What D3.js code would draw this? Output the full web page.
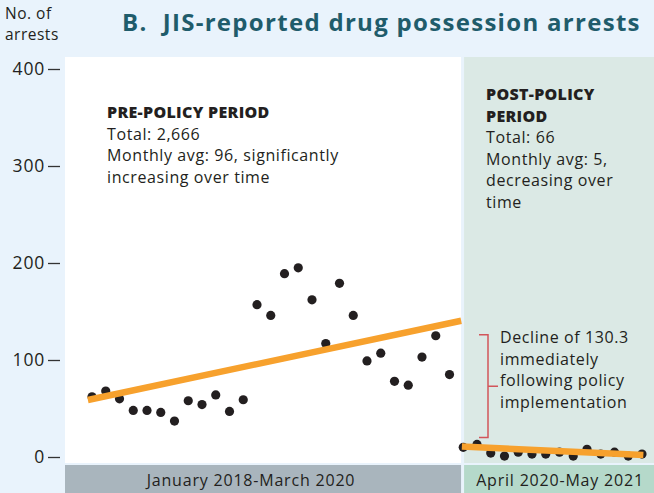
<!DOCTYPE html>
<html>
<head>
<meta charset="utf-8">
<script src="https://cdn.jsdelivr.net/npm/d3@7"></script>
<style>
  body { margin: 0; background: #e9f3fc; }
  svg { display: block; font-family: "Open Sans", sans-serif; }
</style>
</head>
<body>
<div id="chart"></div>
<script>
// monthly arrests, Jan 2018 - Mar 2020 and Apr 2020 - May 2021
const preValues = [62, 68, 60, 48, 48, 46, 37, 58, 54, 64, 47, 59, 157, 146,
	189, 195, 162, 117, 179, 146, 99, 107, 78, 74, 103, 125, 85];
const postValues = [10, 13, 4, 1, 5, 3, 3, 5, 1, 8, 3, 5, 1, 3];

// fitted segments: [month index, value] at each end
const preTrend = [[-0.3, 58.8], [26.85, 140.5]];
const postTrend = [[26.9, 10.7], [40.1, 2]];

const periodLabels = ["January 2018-March 2020", "April 2020-May 2021"];
const yTicks = [0, 100, 200, 300, 400];

const width = 654, height = 493;
const ink = "#231f20";

const svg = d3.select("#chart")
	.append("svg")
	.attr("width", width)
	.attr("height", height);

const x = d3.scaleLinear().domain([0, 40]).range([92, 642]);
const y = d3.scaleLinear().domain([0, 400]).range([457, 69]);

const splitA = x(26.84), splitB = x(27.06);
const plotTop = 57, plotBottom = 463;

// backgrounds
svg.append("rect")
	.attr("x", 65).attr("y", plotTop)
	.attr("width", splitA - 65).attr("height", plotBottom - plotTop)
	.attr("fill", "#ffffff");
svg.append("rect")
	.attr("x", splitB).attr("y", plotTop)
	.attr("width", width - splitB).attr("height", plotBottom - plotTop)
	.attr("fill", "#dbe9e5");

// period bars at the bottom
svg.append("rect")
	.attr("x", 65).attr("y", 465)
	.attr("width", splitA - 65).attr("height", 28)
	.attr("fill", "#a9b5bd");
svg.append("rect")
	.attr("x", splitB).attr("y", 465)
	.attr("width", width - splitB).attr("height", 28)
	.attr("fill", "#b5d9ca");
svg.selectAll("text.period")
	.data(periodLabels)
	.enter().append("text")
	.attr("class", "period")
	.attr("x", function(d, i) { return i === 0 ? 251 : (splitB + width) / 2 + 1; })
	.attr("y", 486)
	.attr("text-anchor", "middle")
	.attr("font-size", 16).attr("letter-spacing", 0.8).attr("fill", ink)
	.text(function(d) { return d; });

// y axis
const yAxis = svg.append("g")
	.attr("transform", "translate(60,0)")
	.call(d3.axisLeft(y).tickValues(yTicks).tickSize(12).tickPadding(3));
yAxis.select(".domain").remove();
yAxis.selectAll("line").attr("stroke", "#333").attr("stroke-width", 1.3);
yAxis.selectAll("text")
	.attr("font-size", 17.5)
	.attr("letter-spacing", 0.8)
	.attr("font-family", "Open Sans, sans-serif")
	.attr("fill", ink);

svg.append("text")
	.attr("font-size", 15.5).attr("letter-spacing", 0.5).attr("fill", ink)
	.selectAll("tspan")
	.data(["No. of", "arrests"])
	.enter().append("tspan")
	.attr("x", 5)
	.attr("y", function(d, i) { return 19 + i * 21; })
	.text(function(d) { return d; });

svg.append("text")
	.attr("x", 122).attr("y", 31)
	.attr("font-size", 24).attr("font-weight", 700)
	.attr("letter-spacing", 1.3)
	.attr("fill", "#1f5c6b")
	.attr("xml:space", "preserve")
	.text("B.  JIS-reported drug possession arrests");

// points
const pts = preValues.map(function(v, i) { return { i: i, v: v }; })
	.concat(postValues.map(function(v, i) { return { i: i + 27, v: v }; }));

svg.selectAll("circle.pt")
	.data(pts)
	.enter()
	.append("circle")
	.attr("class", "pt")
	.attr("cx", function(d) { return x(d.i); })
	.attr("cy", function(d) { return y(d.v); })
	.attr("r", 4.6)
	.attr("fill", ink);

// trend lines
const line = d3.line()
	.x(function(d) { return x(d[0]); })
	.y(function(d) { return y(d[1]); });

svg.selectAll("path.trend")
	.data([preTrend, postTrend])
	.enter()
	.append("path")
	.attr("class", "trend")
	.attr("d", line)
	.attr("fill", "none")
	.attr("stroke", "#f7a12d")
	.attr("stroke-width", 6.5);

// period notes
function note(lines, x0, y0, boldCount) {
	const t = svg.append("text")
		.attr("font-size", 16).attr("fill", ink);
	t.selectAll("tspan")
		.data(lines)
		.enter().append("tspan")
		.attr("x", x0)
		.attr("y", function(d, i) { return y0 + i * 21.5; })
		.attr("font-weight", function(d, i) { return i < boldCount ? 800 : "normal"; })
		.attr("letter-spacing", function(d, i) { return i < boldCount ? 0.3 : 0.6; })
		.text(function(d) { return d; });
}
note(["PRE-POLICY PERIOD", "Total: 2,666", "Monthly avg: 96, significantly",
	"increasing over time"], 107, 118, 1);
note(["POST-POLICY", "PERIOD", "Total: 66", "Monthly avg: 5,", "decreasing over", "time"],
	486, 100, 2);

// decline bracket
const bx = 488, bTop = y(126), bBot = y(20), bMid = (bTop + bBot) / 2;
svg.append("path")
	.attr("d", "M" + (bx - 9) + "," + bTop + "H" + bx + "V" + bBot + "H" + (bx - 9) +
		"M" + bx + "," + bMid + "H" + (bx + 10))
	.attr("fill", "none")
	.attr("stroke", "#d2555a")
	.attr("stroke-width", 1.5);

note(["Decline of 130.3", "immediately", "following policy", "implementation"], 500, 343, 0);
</script>
</body>
</html>
